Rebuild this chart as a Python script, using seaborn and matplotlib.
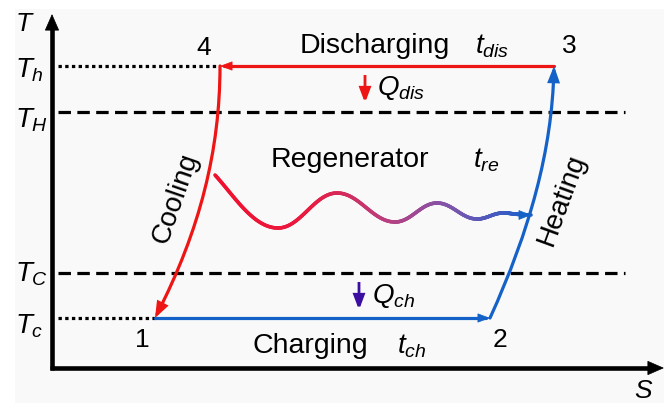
import numpy as np
import matplotlib
matplotlib.use("Agg")
import matplotlib.pyplot as plt
import seaborn as sns
from matplotlib.patches import Rectangle, FancyArrowPatch, ArrowStyle
from matplotlib.path import Path
from matplotlib.collections import LineCollection
from matplotlib.colors import LinearSegmentedColormap

sns.set_theme(style="white")
plt.rcParams["font.family"] = ["Liberation Sans", "DejaVu Sans"]
plt.rcParams["text.color"] = "black"
plt.rcParams["mathtext.fontset"] = "custom"
plt.rcParams["mathtext.it"] = "Liberation Sans:italic"
plt.rcParams["mathtext.rm"] = "Liberation Sans"

# ---- cycle data (entropy S, temperature T in drawing units) ----
state_labels = ["1", "2", "3", "4"]
state_S = [155, 490, 554, 220]
state_T = [85, 85, 337, 337]

level_names = [r"$T_h$", r"$T_H$", r"$T_C$", r"$T_c$"]
level_T = [337, 291, 130, 85]
level_end_S = [220, 625, 625, 155]
level_style = ["dotted", "dashed", "dashed", "dotted"]
level_label_T = [325, 275, 122, 70]

# cooling (4 -> 1) and heating (2 -> 3) curves as cubic Bezier controls
cool_S = [220, 220, 200, 155]
cool_T = [337, 253, 173, 85]
heat_S = [490, 530, 552, 554]
heat_T = [85, 173, 253, 337]

# regenerator path knots (damped oscillation toward the heating curve)
regen_S = [215, 278, 337, 395, 437, 477, 503, 522]
regen_T = [228, 175, 210, 181, 200, 184, 190, 188.5]
regen_tip = (531, 188)

RED = "#ee1515"
BLUE = "#1461c8"
INDIGO = "#3a0fa2"
BLACK = "#000000"

fig = plt.figure(figsize=(6.64, 4.03), dpi=100)
ax = fig.add_axes([0, 0, 1, 1])
ax.set_xlim(0, 664)
ax.set_ylim(0, 403)
ax.axis("off")
fig.patch.set_facecolor("white")
ax.add_patch(Rectangle((15, 0), 649, 394, facecolor="#f9f9f9", edgecolor="none", zorder=0))


def line(xs, ys, **kw):
    sns.lineplot(x=xs, y=ys, ax=ax, estimator=None, sort=False, **kw)


def arrow(p_from, p_to, color, lw, hl, hw, z=5):
    style = ArrowStyle("-|>", head_length=hl, head_width=hw)
    ax.add_patch(FancyArrowPatch(p_from, p_to, arrowstyle=style, mutation_scale=10,
                                 color=color, lw=lw, shrinkA=0, shrinkB=0, zorder=z,
                                 joinstyle="miter", capstyle="butt"))


def bezier(xs, ys, n=60):
    t = np.linspace(0, 1, n)[:, None]
    p = np.column_stack([xs, ys]).astype(float)
    return ((1 - t) ** 3 * p[0] + 3 * (1 - t) ** 2 * t * p[1]
            + 3 * (1 - t) * t ** 2 * p[2] + t ** 3 * p[3])


# ---- axes with arrowheads ----
ax_S0, ax_T0 = 52, 35
line([ax_S0, ax_S0], [ax_T0 - 1.6, 378], color=BLACK, lw=3.3, solid_capstyle="butt", zorder=6)
line([ax_S0 - 1.6, 650], [ax_T0, ax_T0], color=BLACK, lw=3.3, solid_capstyle="butt", zorder=6)
arrow((ax_S0, 370), (ax_S0, 389), BLACK, 0.5, 1.1, 0.48, z=7)
arrow((645, ax_T0), (664, ax_T0), BLACK, 0.5, 1.1, 0.48, z=7)
ax.text(15, 372, r"$T$", fontsize=19, ha="left", va="baseline")
ax.text(634, 5, r"$S$", fontsize=19, ha="left", va="baseline")

# ---- reference temperature levels ----
for name, T, s_end, ls, T_lab in zip(level_names, level_T, level_end_S, level_style, level_label_T):
    pattern = (0, (1.05, 1.05)) if ls == "dotted" else (0, (3.9, 2.0))
    line([58, s_end], [T, T], color=BLACK, lw=2.3, linestyle=pattern, zorder=3)
    ax.text(15, T_lab, name, fontsize=20, ha="left", va="baseline")

# ---- process lines ----
# charging 1 -> 2
line([state_S[0], state_S[1] - 4], [state_T[0], state_T[1]], color=BLUE, lw=2.3, zorder=5)
arrow((state_S[1] - 8, state_T[1]), (state_S[1], state_T[1]), BLUE, 0.5, 0.8, 0.3)
# discharging 3 -> 4
line([state_S[2], state_S[3] + 4], [state_T[2], state_T[3]], color=RED, lw=2.3, zorder=5)
arrow((state_S[3] + 8, state_T[3]), (state_S[3], state_T[3]), RED, 0.5, 0.8, 0.3)

# cooling 4 -> 1 and heating 2 -> 3
for cs, ct, col in [(cool_S, cool_T, RED), (heat_S, heat_T, BLUE)]:
    path = Path(list(zip(cs, ct)), [Path.MOVETO, Path.CURVE4, Path.CURVE4, Path.CURVE4])
    ax.add_patch(FancyArrowPatch(path=path, arrowstyle=ArrowStyle("-|>", head_length=0.8, head_width=0.3),
                                 mutation_scale=10, color=col, lw=2.3, zorder=5,
                                 shrinkA=0, shrinkB=0, joinstyle="miter"))

# regenerator (red to blue gradient)
pts = []
for i in range(len(regen_S) - 1):
    x0, y0, x1, y1 = regen_S[i], regen_T[i], regen_S[i + 1], regen_T[i + 1]
    d = (x1 - x0) / 2.6
    if i == 0:
        c1 = (x0 + 20, y0 - 22)
    else:
        c1 = (x0 + d, y0)
    c2 = (x1 - d, y1)
    seg = bezier([x0, c1[0], c2[0], x1], [y0, c1[1], c2[1], y1])
    pts.append(seg if i == 0 else seg[1:])
pts = np.vstack(pts + [np.array([regen_tip])])
segs = np.stack([pts[:-1], pts[1:]], axis=1)
cmap = LinearSegmentedColormap.from_list(
    "regen", [(0.0, "#f0102e"), (0.3, "#ea1a40"), (0.55, "#b84080"),
              (0.75, "#7d55ad"), (1.0, "#1a5fcc")])
frac = (segs[:, 0, 0] - regen_S[0]) / (regen_tip[0] - regen_S[0])
lc = LineCollection(segs, colors=cmap(frac), lw=2.6, capstyle="round", zorder=4)
ax.add_collection(lc)
arrow((regen_tip[0] - 8, regen_tip[1]), regen_tip, BLUE, 0.5, 0.8, 0.32)

# ---- heat flow arrows ----
arrow((365, 328), (365, 300), RED, 2.0, 0.85, 0.32)
arrow((359, 121), (359, 93), INDIGO, 2.0, 0.85, 0.32)

# ---- state labels ----
label_pos = [(142, 56), (500, 56), (569, 350), (204, 348)]
for lab, (sx, ty) in zip(state_labels, label_pos):
    ax.text(sx, ty, lab, fontsize=19, ha="center", va="baseline")

# ---- process annotations ----
ax.text(300, 350, "Discharging", fontsize=20.5, ha="left", va="baseline")
ax.text(475, 350, r"$t_{dis}$", fontsize=20, ha="left", va="baseline")
ax.text(377, 308, r"$Q_{dis}$", fontsize=20, ha="left", va="baseline")
ax.text(271, 236, "Regenerator", fontsize=20.5, ha="left", va="baseline")
ax.text(473, 236, r"$t_{re}$", fontsize=20, ha="left", va="baseline")
ax.text(372, 100, r"$Q_{ch}$", fontsize=20, ha="left", va="baseline")
ax.text(253, 50, "Charging", fontsize=20.5, ha="left", va="baseline")
ax.text(397, 50, r"$t_{ch}$", fontsize=20, ha="left", va="baseline")
ax.text(176, 205, "Cooling", fontsize=20, ha="center", va="center", rotation=71,
        rotation_mode="anchor")
ax.text(562, 203, "Heating", fontsize=20, ha="center", va="center", rotation=70,
        rotation_mode="anchor")

fig.savefig("out.png", dpi=100, facecolor="white")
